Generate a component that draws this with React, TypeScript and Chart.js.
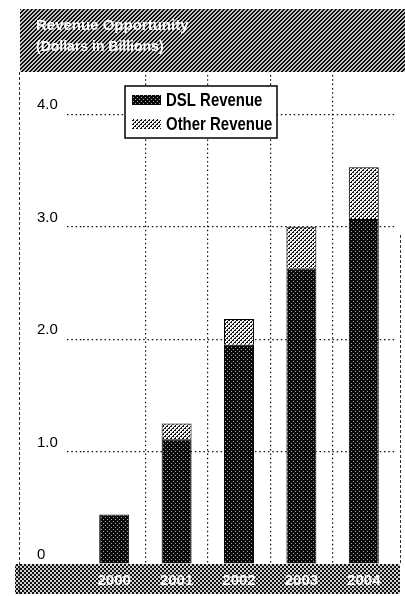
import { useEffect, useRef } from 'react';
import { Chart, registerables } from 'chart.js';

Chart.register(...registerables);

const years = ['2000', '2001', '2002', '2003', '2004'];
const dslRevenue = [0.44, 1.11, 1.95, 2.63, 3.07];
const otherRevenue = [null, 0.14, 0.23, 0.37, 0.46];
const yTicks = [0, 1, 2, 3, 4];
const yTickLabels = ['0', '1.0', '2.0', '3.0', '4.0'];
const titleLines = ['Revenue Opportunity', '(Dollars in Billions)'];
const seriesLabels = ['DSL Revenue', 'Other Revenue'];

const FONT = '"Liberation Sans", Arial, Helvetica, sans-serif';

function makePattern(size: number, fn: (x: number, y: number) => string) {
  const c = document.createElement('canvas');
  c.width = size;
  c.height = size;
  const g = c.getContext('2d')!;
  for (let y = 0; y < size; y++) {
    for (let x = 0; x < size; x++) {
      g.fillStyle = fn(x, y);
      g.fillRect(x, y, 1, 1);
    }
  }
  const tmp = document.createElement('canvas').getContext('2d')!;
  return tmp.createPattern(c, 'repeat')!;
}

export default function App() {
  const ref = useRef<HTMLCanvasElement>(null);

  useEffect(() => {
    if (!ref.current) return;

    const dslPattern = makePattern(4, (x, y) =>
      (x === 1 && y === 1) || (x === 3 && y === 3) ? '#a8a8a8' : '#080808'
    );
    const otherPattern = makePattern(4, (x, y) =>
      (x + y) % 4 === 0 || ((x + y) % 4 === 1 && y % 2 === 0) ? '#111' : '#f4f4f4'
    );
    const hatchPattern = makePattern(4, (x, y) =>
      (x + y) % 4 < 2 ? '#0e0e0e' : '#c4c4c4'
    );
    const checkPattern = makePattern(4, (x, y) =>
      ((x >> 1) + (y >> 1)) % 2 === 0 ? '#111' : '#d0d0d0'
    );

    const framePlugin = {
      id: 'frame',
      beforeDraw(chart: any) {
        const ctx = chart.ctx as CanvasRenderingContext2D;
        const ca = chart.chartArea;
        ctx.save();
        ctx.fillStyle = '#fff';
        ctx.fillRect(0, 0, chart.width, chart.height);
        // title bar
        ctx.fillStyle = hatchPattern;
        ctx.fillRect(20, 9, chart.width - 20, 63);
        ctx.fillStyle = '#fff';
        ctx.textBaseline = 'alphabetic';
        ctx.textAlign = 'left';
        ctx.font = `bold 15px ${FONT}`;
        ctx.fillText(titleLines[0], 36, 30);
        ctx.font = `bold 14px ${FONT}`;
        ctx.fillText(titleLines[1], 36, 51);
        // bottom bar
        ctx.fillStyle = checkPattern;
        ctx.fillRect(15, ca.bottom, 385, 30);
        // borders
        ctx.strokeStyle = '#333';
        ctx.lineWidth = 1;
        ctx.setLineDash([3, 2]);
        ctx.beginPath();
        ctx.moveTo(19.5, 72);
        ctx.lineTo(19.5, 594);
        ctx.moveTo(400.5, 235);
        ctx.lineTo(400.5, ca.bottom);
        ctx.stroke();
        ctx.restore();
      },
    };

    const legendPlugin = {
      id: 'boxLegend',
      afterDraw(chart: any) {
        const ctx = chart.ctx as CanvasRenderingContext2D;
        const x = 125, y = 86, w = 152, h = 52;
        ctx.save();
        ctx.fillStyle = '#fff';
        ctx.fillRect(x, y, w, h);
        ctx.lineWidth = 1.5;
        ctx.strokeStyle = '#000';
        ctx.strokeRect(x, y, w, h);
        chart.data.datasets.forEach((ds: any, i: number) => {
          const cy = y + 14 + i * 24;
          ctx.fillStyle = ds.backgroundColor;
          ctx.fillRect(x + 7, cy - 5, 29, 10);
          ctx.save();
          ctx.translate(x + 41, cy + 1);
          ctx.scale(0.88, 1.05);
          ctx.font = `bold 17px ${FONT}`;
          ctx.fillStyle = '#000';
          ctx.textBaseline = 'middle';
          ctx.textAlign = 'left';
          ctx.fillText(ds.label, 0, 0);
          ctx.restore();
        });
        ctx.restore();
      },
    };

    const gridColor = '#111';
    const dots = [1.5, 2.8];

    const chart = new Chart(ref.current, {
      type: 'bar',
      data: {
        labels: years,
        datasets: [
          {
            label: seriesLabels[0],
            data: dslRevenue,
            backgroundColor: dslPattern as any,
            borderColor: '#000',
            borderWidth: 1,
            barPercentage: 0.48,
            categoryPercentage: 1,
          },
          {
            label: seriesLabels[1],
            data: otherRevenue as any,
            backgroundColor: otherPattern as any,
            borderColor: '#000',
            borderWidth: 1,
            barPercentage: 0.48,
            categoryPercentage: 1,
          },
        ],
      },
      options: {
        responsive: false,
        animation: false,
        devicePixelRatio: 1,
        layout: { padding: { left: 37, top: 75, right: 10, bottom: 0 } },
        plugins: {
          legend: { display: false },
          tooltip: { enabled: false },
          title: { display: false },
        },
        scales: {
          x: {
            stacked: true,
            afterFit: (s: any) => {
              s.height = 32;
            },
            grid: {
              offset: true,
              drawTicks: false,
              lineWidth: 1.2,
              color: (c: any) =>
                c.type !== 'tick' || c.index === 0 ? 'rgba(0,0,0,0)' : gridColor,
            },
            border: { display: false, dash: dots },
            ticks: {
              color: '#fff',
              padding: 8,
              font: { family: FONT, size: 15, weight: 'bold' },
            },
          },
          y: {
            stacked: true,
            min: 0,
            max: 4.35,
            afterBuildTicks: (s: any) => {
              s.ticks = yTicks.map((v) => ({ value: v }));
            },
            afterFit: (s: any) => {
              s.width = 46;
            },
            grid: {
              drawTicks: true,
              tickLength: 16,
              tickWidth: 1.2,
              lineWidth: 1.2,
              tickBorderDash: dots,
              color: (c: any) =>
                c.tick && c.tick.value === 0 ? 'rgba(0,0,0,0)' : gridColor,
              tickColor: (c: any) =>
                c.tick && c.tick.value === 0 ? 'rgba(0,0,0,0)' : gridColor,
            },
            border: { display: false, dash: dots },
            ticks: {
              crossAlign: 'far',
              labelOffset: -9,
              padding: 4,
              color: '#000',
              font: { family: FONT, size: 15 },
              callback: (v: any) => {
                const i = yTicks.indexOf(Number(v));
                return i >= 0 ? yTickLabels[i] : '';
              },
            },
          },
        },
      } as any,
      plugins: [framePlugin, legendPlugin],
    });

    return () => chart.destroy();
  }, []);

  return (
    <div
      style={{
        position: 'absolute',
        left: 0,
        top: 0,
        width: 405,
        height: 596,
        background: '#fff',
      }}
    >
      <canvas
        ref={ref}
        width={405}
        height={596}
        style={{ display: 'block', width: 405, height: 596 }}
      />
    </div>
  );
}
